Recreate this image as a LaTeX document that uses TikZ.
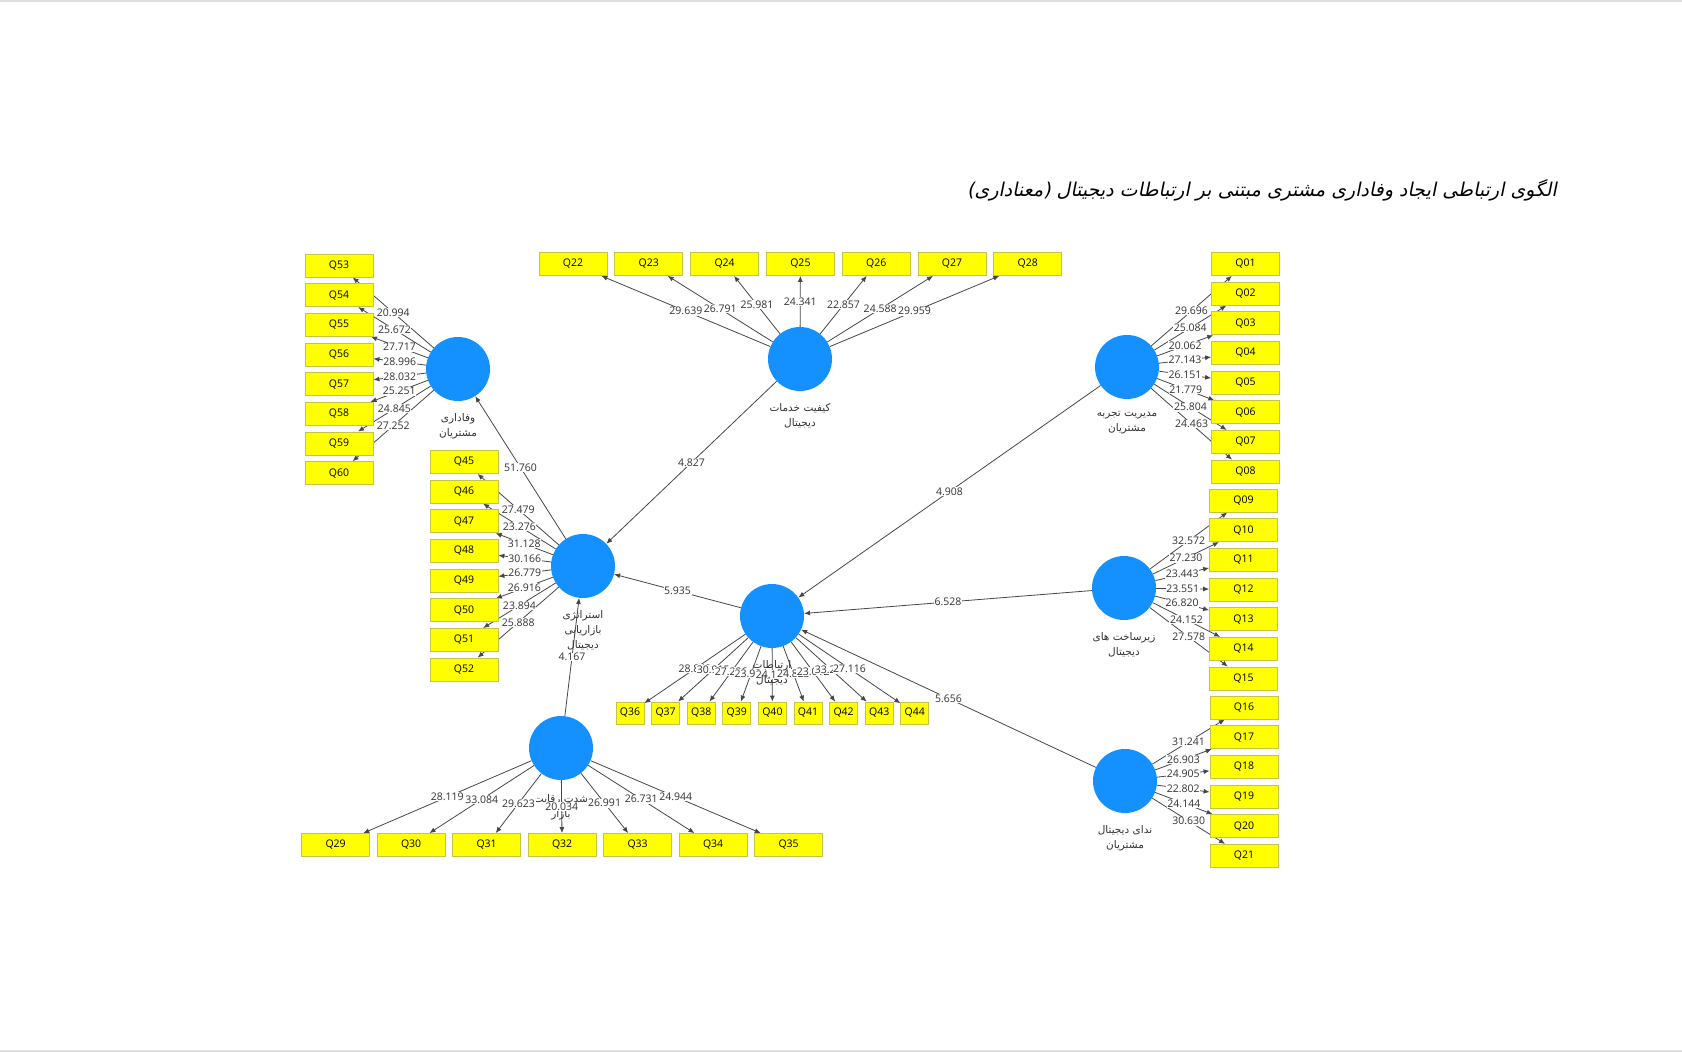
\documentclass[tikz,border=0pt]{standalone}
\usepackage{fontspec}
\setmainfont{Open Sans}
\newfontfamily\fafont[Script=Arabic]{DejaVu Sans}
\newfontfamily\titlefont[Script=Arabic,FakeSlant=0.2]{DejaVu Sans}
\TeXXeTstate=1
\usetikzlibrary{arrows.meta,positioning}
\definecolor{lvblue}{RGB}{20,144,255}
\definecolor{mvyellow}{RGB}{255,255,0}
\definecolor{mvedge}{RGB}{196,196,70}
\definecolor{linegray}{RGB}{70,70,70}
\definecolor{txtgray}{RGB}{50,50,50}
\pgfdeclarelayer{bg}
\pgfsetlayers{bg,main}
\def\fa#1{\beginR#1\endR}
\def\ind(#1)(#2)#3{\begin{pgfonlayer}{bg}\draw[arr] (#1) -- (#2);\end{pgfonlayer}\path (#1) -- node[val] (v#1#2) {#3} (#2);}

\begin{document}
\begin{tikzpicture}[x=1pt,y=-1pt,
	lv/.style={circle,fill=lvblue,minimum size=64pt,inner sep=0pt},
	mv/.style={rectangle,fill=mvyellow,draw=mvedge,line width=0.8pt,minimum width=68pt,minimum height=23pt,inner sep=0pt,font=\fontsize{10.5}{12}\selectfont},
	mvs/.style={mv,minimum width=28pt,minimum height=22pt},
	lvname/.style={font=\fafont\fontsize{10.5}{15}\selectfont,text=txtgray,align=center,inner sep=0pt},
	val/.style={fill=white,inner sep=0.6pt,font=\fontsize{10.5}{12}\selectfont,text=txtgray},
	arr/.style={draw=linegray,line width=0.8pt,-{Latex[length=6pt,width=5pt]}}]
			%%%%% START %%%%%
			
			\useasboundingbox (0,0) rectangle (1682,1052);
			\draw[gray!25,line width=2pt] (0,1) -- (1682,1);
			\draw[gray!25,line width=2pt] (0,1051) -- (1682,1051);
			
			\node[font=\titlefont\fontsize{19}{23}\selectfont] (title) at (1262,190) {\fa{الگوی ارتباطی ایجاد وفاداری مشتری مبتنی بر ارتباطات دیجیتال (معناداری)}};
			
			\node[lv] (loy) at (458,369) {};
			\node[lv] (sq) at (800,359) {};
			\node[lv] (cx) at (1127,367) {};
			\node[lv] (inf) at (1124,588) {};
			\node[lv] (call) at (1125,781) {};
			\node[lv] (str) at (583,566) {};
			\node[lv] (dc) at (772,616) {};
			\node[lv] (comp) at (561,748) {};
			
			\node[mv] (q53) at (339,265.5) {Q53};
			\node[mv] (q54) at (339,295.2) {Q54};
			\node[mv] (q55) at (339,324.8) {Q55};
			\node[mv] (q56) at (339,354.5) {Q56};
			\node[mv] (q57) at (339,384.1) {Q57};
			\node[mv] (q58) at (339,413.8) {Q58};
			\node[mv] (q59) at (339,443.4) {Q59};
			\node[mv] (q60) at (339,473.1) {Q60};
			
			\node[mv] (q22) at (573,264) {Q22};
			\node[mv] (q23) at (648.8,264) {Q23};
			\node[mv] (q24) at (724.6,264) {Q24};
			\node[mv] (q25) at (800.4,264) {Q25};
			\node[mv] (q26) at (876.2,264) {Q26};
			\node[mv] (q27) at (952,264) {Q27};
			\node[mv] (q28) at (1027.8,264) {Q28};
			
			\node[mv] (q01) at (1245.5,264) {Q01};
			\node[mv] (q02) at (1245.5,293.7) {Q02};
			\node[mv] (q03) at (1245.5,323.3) {Q03};
			\node[mv] (q04) at (1245.5,353) {Q04};
			\node[mv] (q05) at (1245.5,382.6) {Q05};
			\node[mv] (q06) at (1245.5,412.3) {Q06};
			\node[mv] (q07) at (1245.5,441.9) {Q07};
			\node[mv] (q08) at (1245.5,471.6) {Q08};
			
			\node[mv] (q09) at (1243.5,500.5) {Q09};
			\node[mv] (q10) at (1243.5,530.2) {Q10};
			\node[mv] (q11) at (1243.5,559.8) {Q11};
			\node[mv] (q12) at (1243.5,589.5) {Q12};
			\node[mv] (q13) at (1243.5,619.1) {Q13};
			\node[mv] (q14) at (1243.5,648.8) {Q14};
			\node[mv] (q15) at (1243.5,678.4) {Q15};
			
			\node[mv] (q16) at (1244,707.5) {Q16};
			\node[mv] (q17) at (1244,737.2) {Q17};
			\node[mv] (q18) at (1244,766.8) {Q18};
			\node[mv] (q19) at (1244,796.5) {Q19};
			\node[mv] (q20) at (1244,826.1) {Q20};
			\node[mv] (q21) at (1244,855.8) {Q21};
			
			\node[mv] (q45) at (464,462) {Q45};
			\node[mv] (q46) at (464,491.7) {Q46};
			\node[mv] (q47) at (464,521.3) {Q47};
			\node[mv] (q48) at (464,551) {Q48};
			\node[mv] (q49) at (464,580.6) {Q49};
			\node[mv] (q50) at (464,610.3) {Q50};
			\node[mv] (q51) at (464,639.9) {Q51};
			\node[mv] (q52) at (464,669.6) {Q52};
			
			\node[mv] (q29) at (335.6,845) {Q29};
			\node[mv] (q30) at (411.1,845) {Q30};
			\node[mv] (q31) at (486.6,845) {Q31};
			\node[mv] (q32) at (562.1,845) {Q32};
			\node[mv] (q33) at (637.6,845) {Q33};
			\node[mv] (q34) at (713.1,845) {Q34};
			\node[mv] (q35) at (788.6,845) {Q35};
			
			\node[mvs] (q36) at (630,713) {Q36};
			\node[mvs] (q37) at (665.6,713) {Q37};
			\node[mvs] (q38) at (701.2,713) {Q38};
			\node[mvs] (q39) at (736.8,713) {Q39};
			\node[mvs] (q40) at (772.4,713) {Q40};
			\node[mvs] (q41) at (808,713) {Q41};
			\node[mvs] (q42) at (843.6,713) {Q42};
			\node[mvs] (q43) at (879.2,713) {Q43};
			\node[mvs] (q44) at (914.8,713) {Q44};
			
			% inner model
			\ind(str)(loy){51.760}
			\ind(sq)(str){4.827}
			\ind(cx)(dc){4.908}
			\ind(inf)(dc){6.528}
			\ind(call)(dc){5.656}
			\ind(dc)(str){5.935}
			\ind(comp)(str){4.167}
			
			% outer model
			\ind(loy)(q53){20.994}
			\ind(loy)(q54){25.672}
			\ind(loy)(q55){27.717}
			\ind(loy)(q56){28.996}
			\ind(loy)(q57){28.032}
			\ind(loy)(q58){25.251}
			\ind(loy)(q59){24.845}
			\ind(loy)(q60){27.252}
			
			\ind(sq)(q22){29.639}
			\ind(sq)(q23){26.791}
			\ind(sq)(q24){25.981}
			\ind(sq)(q25){24.341}
			\ind(sq)(q26){22.857}
			\ind(sq)(q27){24.588}
			\ind(sq)(q28){29.959}
			
			\ind(cx)(q01){29.696}
			\ind(cx)(q02){25.084}
			\ind(cx)(q03){20.062}
			\ind(cx)(q04){27.143}
			\ind(cx)(q05){26.151}
			\ind(cx)(q06){21.779}
			\ind(cx)(q07){25.804}
			\ind(cx)(q08){24.463}
			
			\ind(inf)(q09){32.572}
			\ind(inf)(q10){27.230}
			\ind(inf)(q11){23.443}
			\ind(inf)(q12){23.551}
			\ind(inf)(q13){26.820}
			\ind(inf)(q14){24.152}
			\ind(inf)(q15){27.578}
			
			\ind(call)(q16){31.241}
			\ind(call)(q17){26.903}
			\ind(call)(q18){24.905}
			\ind(call)(q19){22.802}
			\ind(call)(q20){24.144}
			\ind(call)(q21){30.630}
			
			\ind(str)(q45){27.479}
			\ind(str)(q46){23.276}
			\ind(str)(q47){31.128}
			\ind(str)(q48){30.166}
			\ind(str)(q49){26.779}
			\ind(str)(q50){26.916}
			\ind(str)(q51){23.894}
			\ind(str)(q52){25.888}
			
			\node[lvname, below=14pt of comp] (compt) {\fa{شدت رقابت}\\\fa{بازار}};
			
			\ind(comp)(q29){28.119}
			\ind(comp)(q30){33.084}
			\ind(comp)(q31){29.623}
			\ind(comp)(q32){20.034}
			\ind(comp)(q33){26.991}
			\ind(comp)(q34){26.731}
			\ind(comp)(q35){24.944}
			
			\ind(dc)(q36){28.842}
			\ind(dc)(q37){30.915}
			\ind(dc)(q38){27.226}
			\ind(dc)(q39){23.934}
			\ind(dc)(q40){24.124}
			\ind(dc)(q41){24.823}
			\ind(dc)(q42){23.012}
			\ind(dc)(q43){33.231}
			\ind(dc)(q44){27.116}
			
			\node[lvname, below=12pt of loy] (loyt) {\fa{وفاداری}\\\fa{مشتریان}};
			\node[lvname, below=12pt of sq] (sqt) {\fa{کیفیت خدمات}\\\fa{دیجیتال}};
			\node[lvname, below=12pt of cx] (cxt) {\fa{مدیریت تجربه}\\\fa{مشتریان}};
			\node[lvname, below=12pt of inf] (inft) {\fa{زیرساخت های}\\\fa{دیجیتال}};
			\node[lvname, below=12pt of call] (callt) {\fa{ندای دیجیتال}\\\fa{مشتریان}};
			\node[lvname, below=12pt of str] (strt) {\fa{استراتژی}\\\fa{بازاریابی}\\\fa{دیجیتال}};
			\node[lvname, below=12pt of dc] (dct) {\fa{ارتباطات}\\\fa{دیجیتال}};
			
			%%%%% END %%%%%
\end{tikzpicture}
\end{document}
